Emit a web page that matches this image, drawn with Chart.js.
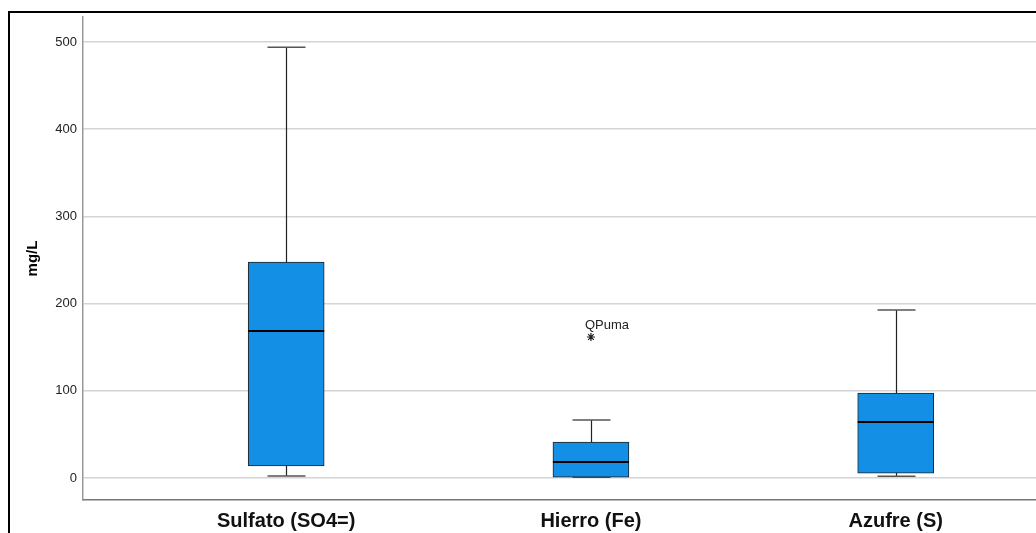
<!DOCTYPE html>
<html>
<head>
<meta charset="utf-8">
<script src="https://cdn.jsdelivr.net/npm/chart.js@4.4.1/dist/chart.umd.min.js"></script>
<style>
  html, body { margin: 0; padding: 0; background: #fff; overflow: hidden; }
  #wrap { position: relative; width: 1036px; height: 533px; overflow: hidden; }
  #frame { position: absolute; left: 8px; top: 11px; width: 1100px; height: 600px;
           border-left: 2px solid #000; border-top: 2px solid #000; pointer-events: none; }
</style>
</head>
<body>
<div id="wrap">
  <canvas id="boxChart" width="1042" height="533"></canvas>
  <div id="frame"></div>
</div>
<script>
// box plot data (mg/L)
var categories = ['Sulfato (SO4=)', 'Hierro (Fe)', 'Azufre (S)'];
var whiskerLow = [2.3, 1, 2];
var q1 = [13.8, 1, 5.7];
var median = [168.6, 18.3, 64.2];
var q3 = [247.7, 41.3, 97.5];
var whiskerHigh = [494, 66.5, 192.7];
var outlierCat = [1];
var outlierVal = [161.7];
var outlierLabel = ['QPuma'];
var yTicks = [0, 100, 200, 300, 400, 500];

var boxData = categories.map(function(c, i) {
    return { x: i, y: [q1[i], q3[i]] };
});
var outlierData = outlierCat.map(function(c, i) {
    return { x: c, y: outlierVal[i] };
});

var BOX_W = 76;

// whiskers, caps, medians and outlier labels
var boxPlugin = {
    id: 'boxParts',
    beforeDatasetsDraw: function(chart) {
        var ctx = chart.ctx, xs = chart.scales.x, ys = chart.scales.y;
        ctx.save();
        categories.forEach(function(c, i) {
            var cx = Math.round(xs.getPixelForValue(i)) + 0.5;
            var yLo = ys.getPixelForValue(whiskerLow[i]);
            var yHi = ys.getPixelForValue(whiskerHigh[i]);
            var yQ1 = ys.getPixelForValue(q1[i]);
            var yQ3 = ys.getPixelForValue(q3[i]);
            ctx.strokeStyle = '#222';
            ctx.lineWidth = 1.2;
            ctx.beginPath();
            ctx.moveTo(cx, yHi); ctx.lineTo(cx, yQ3);
            ctx.moveTo(cx, yQ1); ctx.lineTo(cx, yLo);
            ctx.stroke();
            ctx.strokeStyle = '#555';
            ctx.lineWidth = 1.5;
            ctx.beginPath();
            ctx.moveTo(cx - BOX_W / 4, yHi); ctx.lineTo(cx + BOX_W / 4, yHi);
            ctx.moveTo(cx - BOX_W / 4, yLo); ctx.lineTo(cx + BOX_W / 4, yLo);
            ctx.stroke();
        });
        ctx.restore();
    },
    afterDatasetsDraw: function(chart) {
        var ctx = chart.ctx, xs = chart.scales.x, ys = chart.scales.y;
        ctx.save();
        ctx.strokeStyle = '#000';
        ctx.lineWidth = 2;
        categories.forEach(function(c, i) {
            var cx = xs.getPixelForValue(i);
            var ym = ys.getPixelForValue(median[i]);
            ctx.beginPath();
            ctx.moveTo(cx - BOX_W / 2, ym); ctx.lineTo(cx + BOX_W / 2, ym);
            ctx.stroke();
        });
        ctx.fillStyle = '#222';
        ctx.font = '13px "Liberation Sans", Arial, sans-serif';
        ctx.textAlign = 'left';
        ctx.textBaseline = 'middle';
        outlierCat.forEach(function(c, i) {
            var px = xs.getPixelForValue(c);
            var py = ys.getPixelForValue(outlierVal[i]);
            ctx.fillText(outlierLabel[i], px - 6, py - 12);
        });
        ctx.restore();
    }
};

var chart = new Chart(document.getElementById('boxChart'), {
    type: 'bar',
    data: {
        datasets: [{
            label: 'box',
            data: boxData,
            backgroundColor: '#1390e6',
            borderColor: '#222',
            borderWidth: 1,
            borderSkipped: false,
            barThickness: BOX_W
        }, {
            type: 'scatter',
            label: 'outlier',
            data: outlierData,
            pointStyle: 'star',
            radius: 4,
            borderColor: '#222',
            borderWidth: 1.2,
            backgroundColor: '#222'
        }]
    },
    plugins: [boxPlugin],
    options: {
        responsive: false,
        animation: false,
        events: [],
        layout: { padding: { top: 17, left: 0, right: 0, bottom: 0 } },
        plugins: { legend: { display: false }, tooltip: { enabled: false } },
        scales: {
            x: {
                type: 'linear',
                offset: false,
                min: -0.6667,
                max: 2.463,
                afterBuildTicks: function(scale) {
                    scale.ticks = categories.map(function(c, i) { return { value: i }; });
                },
                afterFit: function(scale) { scale.height = 33; },
                grid: { display: false, drawTicks: false, offset: false },
                border: { display: true, color: '#777', width: 1.5 },
                ticks: {
                    padding: 9,
                    autoSkip: false,
                    maxRotation: 0,
                    color: '#111',
                    font: { family: '"Liberation Sans", Arial, sans-serif', size: 20, weight: 'bold' },
                    callback: function(v) { return categories[v]; }
                }
            },
            y: {
                min: -25.2,
                max: 528.7,
                afterBuildTicks: function(scale) {
                    scale.ticks = yTicks.map(function(v) { return { value: v }; });
                },
                afterFit: function(scale) { scale.width = 83; },
                grid: { color: '#d4d4d4', lineWidth: 1.5, drawTicks: false },
                border: { display: true, color: '#999', width: 1.5 },
                ticks: {
                    padding: 6,
                    color: '#222',
                    font: { family: '"Liberation Sans", Arial, sans-serif', size: 13 }
                },
                title: {
                    display: true,
                    text: 'mg/L',
                    color: '#000',
                    font: { family: '"Liberation Sans", Arial, sans-serif', size: 15, weight: 'bold' },
                    padding: { top: 24, bottom: 0 }
                }
            }
        }
    }
});
</script>
</body>
</html>
